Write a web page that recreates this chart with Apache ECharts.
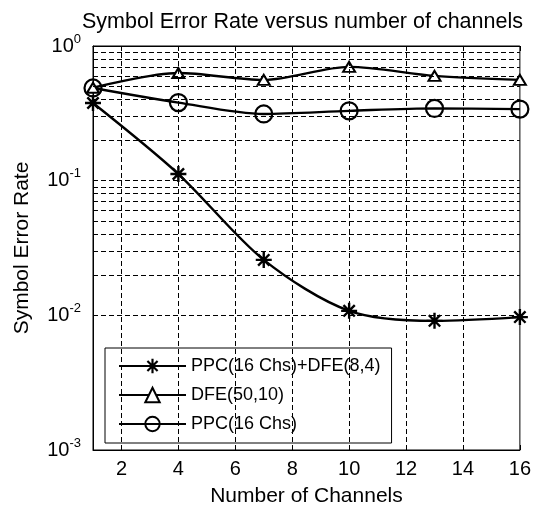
<!DOCTYPE html>
<html>
<head>
<meta charset="utf-8">
<script src="https://cdn.jsdelivr.net/npm/echarts@6/dist/echarts.min.js"></script>
<style>
  html, body { margin: 0; padding: 0; background: #fff; }
  #chart { width: 534px; height: 513px; }
</style>
</head>
<body>
<div id="chart"></div>
<script>
// Number of channels on the x axis
const channels = [1, 4, 7, 10, 13, 16];
// Symbol error rate per scheme
const serPpcDfe = [0.377, 0.112, 0.0258, 0.0108, 0.0091, 0.0097];
const serDfe = [0.49, 0.63, 0.56, 0.70, 0.60, 0.56];
const serPpc = [0.488, 0.38, 0.313, 0.33, 0.344, 0.34];
// Axis ticks and grid positions
const xTicks = [2, 4, 6, 8, 10, 12, 14, 16];
const xGrid = [2, 4, 6, 8, 10, 12, 14];
const yGrid = [
  0.002, 0.003, 0.004, 0.005, 0.006, 0.007, 0.008, 0.009, 0.01,
  0.02, 0.03, 0.04, 0.05, 0.06, 0.07, 0.08, 0.09, 0.1,
  0.2, 0.3, 0.4, 0.5, 0.6, 0.7, 0.8, 0.9
];
const seriesNames = ['PPC(16 Chs)+DFE(8,4)', 'DFE(50,10)', 'PPC(16 Chs)'];

const FONT = 'Arial, "Liberation Sans", sans-serif';
// Eight-point asterisk built from four filled bars (same winding so they union)
const asterisk = 'path://' +
  'M0,8.5L20,8.5L20,11.5L0,11.5Z' +
  'M8.5,0L11.5,0L11.5,20L8.5,20Z' +
  'M3.99,1.87L18.13,16.01L16.01,18.13L1.87,3.99Z' +
  'M16.01,1.87L18.13,3.99L3.99,18.13L1.87,16.01Z';

function pairs(xs, ys) { return xs.map((x, i) => [x, ys[i]]); }

const gridLineStyle = { color: '#000', width: 1, type: [5, 3] };

const chart = echarts.init(document.getElementById('chart'), null, { renderer: 'canvas' });
chart.setOption({
  animation: false,
  backgroundColor: '#fff',
  textStyle: { fontFamily: FONT, color: '#000' },
  title: {
    text: 'Symbol Error Rate versus number of channels',
    left: 77, top: 6,
    textStyle: { fontFamily: FONT, fontSize: 21.5, fontWeight: 'normal', color: '#000' }
  },
  grid: {
    left: 93, right: 10, top: 46, bottom: 63,
    show: true, borderColor: '#000', borderWidth: 1, backgroundColor: '#fff'
  },
  legend: {
    data: seriesNames,
    orient: 'vertical',
    left: 105, top: 348,
    padding: [9, 11, 10, 13],
    itemGap: 11,
    itemWidth: 67, itemHeight: 18,
    backgroundColor: '#fff',
    borderColor: '#000', borderWidth: 1,
    textStyle: { fontFamily: FONT, fontSize: 18, color: '#000' }
  },
  xAxis: [{
    type: 'value', min: 1, max: 16,
    name: 'Number of Channels', nameLocation: 'middle', nameGap: 36,
    nameTextStyle: { fontFamily: FONT, fontSize: 21, color: '#000' },
    axisLine: { lineStyle: { color: '#000', width: 1 } },
    axisTick: { inside: true, length: 5, customValues: xTicks, lineStyle: { color: '#000' } },
    axisLabel: { customValues: xTicks, fontFamily: FONT, fontSize: 20, color: '#000', margin: 9 },
    splitLine: { show: false }
  }, {
    type: 'value', min: 1, max: 16, position: 'top',
    axisLine: { lineStyle: { color: '#000', width: 1 } },
    axisTick: { inside: true, length: 5, customValues: xTicks, lineStyle: { color: '#000' } },
    axisLabel: { show: false },
    splitLine: { show: false }
  }],
  yAxis: {
    type: 'log', logBase: 10, min: 0.001, max: 1,
    name: 'Symbol Error Rate', nameLocation: 'middle', nameGap: 60,
    nameTextStyle: { fontFamily: FONT, fontSize: 21, color: '#000' },
    axisLine: { show: true, lineStyle: { color: '#000', width: 1 } },
    axisTick: { inside: true, length: 5, lineStyle: { color: '#000' } },
    axisLabel: {
      margin: 12,
      formatter: v => '{b|10}{s|' + Math.round(Math.log10(v)) + '}',
      rich: {
        b: { fontFamily: FONT, fontSize: 20, color: '#000' },
        s: { fontFamily: FONT, fontSize: 13, color: '#000', padding: [0, 0, 14, 0] }
      }
    },
    splitLine: { show: false }
  },
  series: [
    {
      name: 'gridlines', type: 'line', data: [], silent: true, z: 1,
      markLine: {
        silent: true, symbol: 'none', animation: false,
        label: { show: false },
        lineStyle: gridLineStyle,
        data: xGrid.map(v => ({ xAxis: v })).concat(yGrid.map(v => ({ yAxis: v })))
      }
    },
    {
      name: seriesNames[0], type: 'line', z: 3,
      data: pairs(channels, serPpcDfe), smooth: 0.3,
      lineStyle: { color: '#000', width: 2.4 },
      symbol: asterisk, symbolSize: 16,
      itemStyle: { color: '#000', borderWidth: 0 }
    },
    {
      name: seriesNames[1], type: 'line', z: 3,
      data: pairs(channels, serDfe), smooth: 0.3,
      lineStyle: { color: '#000', width: 2.4 },
      symbol: 'triangle', symbolSize: [12, 10],
      itemStyle: { color: '#fff', borderColor: '#000', borderWidth: 2 }
    },
    {
      name: seriesNames[2], type: 'line', z: 3,
      data: pairs(channels, serPpc), smooth: 0.3,
      lineStyle: { color: '#000', width: 2.4 },
      symbol: 'circle', symbolSize: 17,
      itemStyle: { color: 'rgba(255,255,255,0)', borderColor: '#000', borderWidth: 2.2 }
    }
  ]
});
</script>
</body>
</html>
